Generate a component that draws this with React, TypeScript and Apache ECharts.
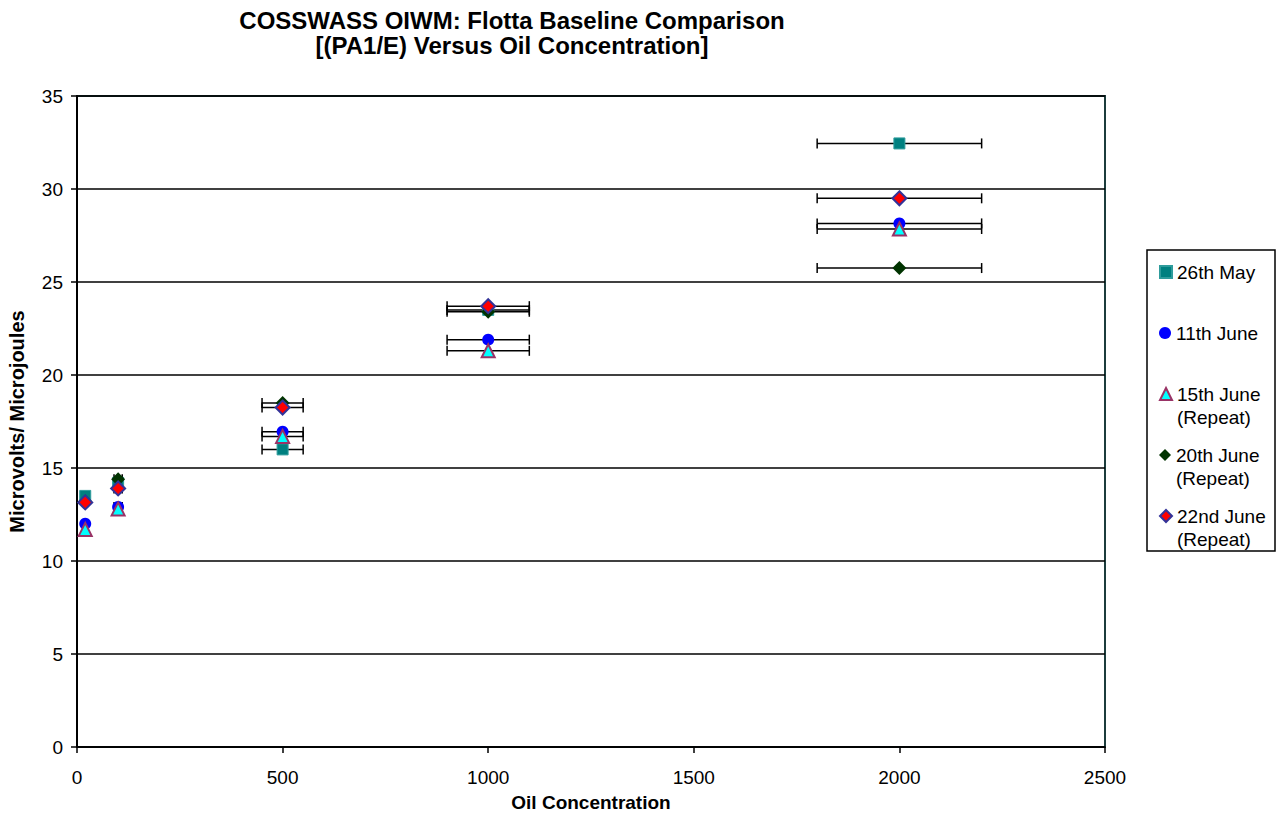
import React, { useEffect, useRef } from "react";
import * as echarts from "echarts";

const titleText = "COSSWASS OIWM: Flotta Baseline Comparison\n[(PA1/E) Versus Oil Concentration]";
const xAxisName = "Oil Concentration";
const yAxisName = "Microvolts/ Microjoules";

const concentrations = [20, 100, 500, 1000, 2000];
const concentrationErrors = [2, 10, 50, 100, 200];

const seriesNames = ["26th May", "11th June", "15th June (Repeat)", "20th June (Repeat)", "22nd June (Repeat)"];
const may26 = [13.5, 14.2, 16.0, 23.5, 32.45];
const june11 = [12.0, 12.9, 16.95, 21.9, 28.15];
const june15 = [11.7, 12.8, 16.7, 21.3, 27.85];
const june20 = [13.2, 14.4, 18.5, 23.4, 25.75];
const june22 = [13.15, 13.9, 18.25, 23.7, 29.5];

const seriesValues = [may26, june11, june15, june20, june22];
const legendLabels = ["26th May", "11th June", " \n15th June\n(Repeat)", " \n20th June\n(Repeat)", " \n22nd June\n(Repeat)"];

const FONT = "'Liberation Sans', Arial, sans-serif";

export default function App() {
  const ref = useRef<HTMLDivElement>(null);

  useEffect(() => {
    document.body.style.margin = "0";
    if (!ref.current) return;
    const chart = echarts.init(ref.current, undefined, { renderer: "svg" });

    const styles = [
      { symbol: "rect", symbolSize: 11, itemStyle: { color: "#008080", borderColor: "#2f9c9c", borderWidth: 1, opacity: 1 } },
      { symbol: "circle", symbolSize: 12, itemStyle: { color: "#0000ff", borderColor: "#0000ff", borderWidth: 0, opacity: 1 } },
      { symbol: "triangle", symbolSize: 13, itemStyle: { color: "#00ffff", borderColor: "#993366", borderWidth: 2, opacity: 1 } },
      { symbol: "diamond", symbolSize: 14, itemStyle: { color: "#003300", borderColor: "#003300", borderWidth: 0, opacity: 1 } },
      { symbol: "diamond", symbolSize: 14, itemStyle: { color: "#ff0000", borderColor: "#333399", borderWidth: 2, opacity: 1 } },
    ];

    const scatterSeries = seriesNames.map((name, i) => ({
      name,
      type: "scatter",
      symbol: styles[i].symbol,
      symbolSize: styles[i].symbolSize,
      itemStyle: styles[i].itemStyle,
      z: 3,
      data: concentrations.map((x, j) => [x, seriesValues[i][j]]),
    }));

    const errorData: number[][] = [];
    seriesValues.forEach((vals) => {
      concentrations.forEach((x, j) => {
        errorData.push([x, vals[j], concentrationErrors[j]]);
      });
    });

    const errorSeries = {
      name: "errors",
      type: "custom",
      z: 2,
      encode: { x: 0, y: 1 },
      data: errorData,
      renderItem: (params: any, api: any) => {
        const x = api.value(0);
        const y = api.value(1);
        const e = api.value(2);
        const p1 = api.coord([x - e, y]);
        const p2 = api.coord([x + e, y]);
        const cap = 5;
        const style = { stroke: "#000", lineWidth: 1.5 };
        return {
          type: "group",
          children: [
            { type: "line", shape: { x1: p1[0], y1: p1[1], x2: p2[0], y2: p2[1] }, style },
            { type: "line", shape: { x1: p1[0], y1: p1[1] - cap, x2: p1[0], y2: p1[1] + cap }, style },
            { type: "line", shape: { x1: p2[0], y1: p2[1] - cap, x2: p2[0], y2: p2[1] + cap }, style },
          ],
        };
      },
    };

    const legendTops = [260.5, 321.5, 359.5, 420.5, 481.5];
    const legends = seriesNames.map((name, i) => ({
      data: [name],
      left: 1159,
      top: legendTops[i],
      padding: 0,
      itemWidth: 12,
      itemHeight: 12,
      itemGap: 0,
      selectedMode: false,
      formatter: () => legendLabels[i],
      textStyle: {
        fontFamily: FONT,
        fontSize: 19,
        color: "#000",
        lineHeight: 23,
      },
    }));

    chart.setOption({
      animation: false,
      backgroundColor: "#fff",
      textStyle: { fontFamily: FONT },
      grid: {
        left: 77,
        right: 172,
        top: 96,
        bottom: 72,
        show: true,
        borderColor: "#1c3c3c",
        borderWidth: 2,
        backgroundColor: "transparent",
        containLabel: false,
        outerBoundsMode: "none",
      },
      legend: legends,
      graphic: [
        {
          type: "rect",
          shape: { x: 1147, y: 250, width: 128, height: 301 },
          style: { fill: "none", stroke: "#000", lineWidth: 1.5 },
          silent: true,
        },
        {
          type: "text",
          x: 512,
          y: 33,
          style: {
            text: titleText,
            fontFamily: FONT,
            fontWeight: "bold",
            fontSize: 24,
            lineHeight: 25,
            fill: "#000",
            align: "center",
            verticalAlign: "middle",
          },
        },
      ],
      xAxis: {
        type: "value",
        min: 0,
        max: 2500,
        interval: 500,
        name: xAxisName,
        nameLocation: "middle",
        nameGap: 46,
        nameTextStyle: { fontFamily: FONT, fontWeight: "bold", fontSize: 19, color: "#000" },
        axisLine: { show: true, onZero: false, lineStyle: { color: "#000", width: 1.5 } },
        axisTick: { show: true, length: 6, lineStyle: { color: "#000", width: 1.5 } },
        axisLabel: { fontFamily: FONT, fontSize: 19, color: "#000", margin: 21, formatter: (v: number) => String(v) },
        splitLine: { show: false },
      },
      yAxis: {
        type: "value",
        min: 0,
        max: 35,
        interval: 5,
        name: yAxisName,
        nameLocation: "middle",
        nameGap: 50,
        nameTextStyle: { fontFamily: FONT, fontWeight: "bold", fontSize: 20, color: "#000" },
        axisLine: { show: true, lineStyle: { color: "#000", width: 2 } },
        axisTick: { show: true, length: 6, lineStyle: { color: "#000", width: 1.5 } },
        axisLabel: { fontFamily: FONT, fontSize: 19, color: "#000", margin: 14, formatter: (v: number) => String(v) },
        splitLine: { show: true, lineStyle: { color: "#000", width: 1.5 } },
      },
      series: [errorSeries, ...scatterSeries],
    });

    return () => chart.dispose();
  }, []);

  return <div ref={ref} style={{ width: 1277, height: 819 }} />;
}
